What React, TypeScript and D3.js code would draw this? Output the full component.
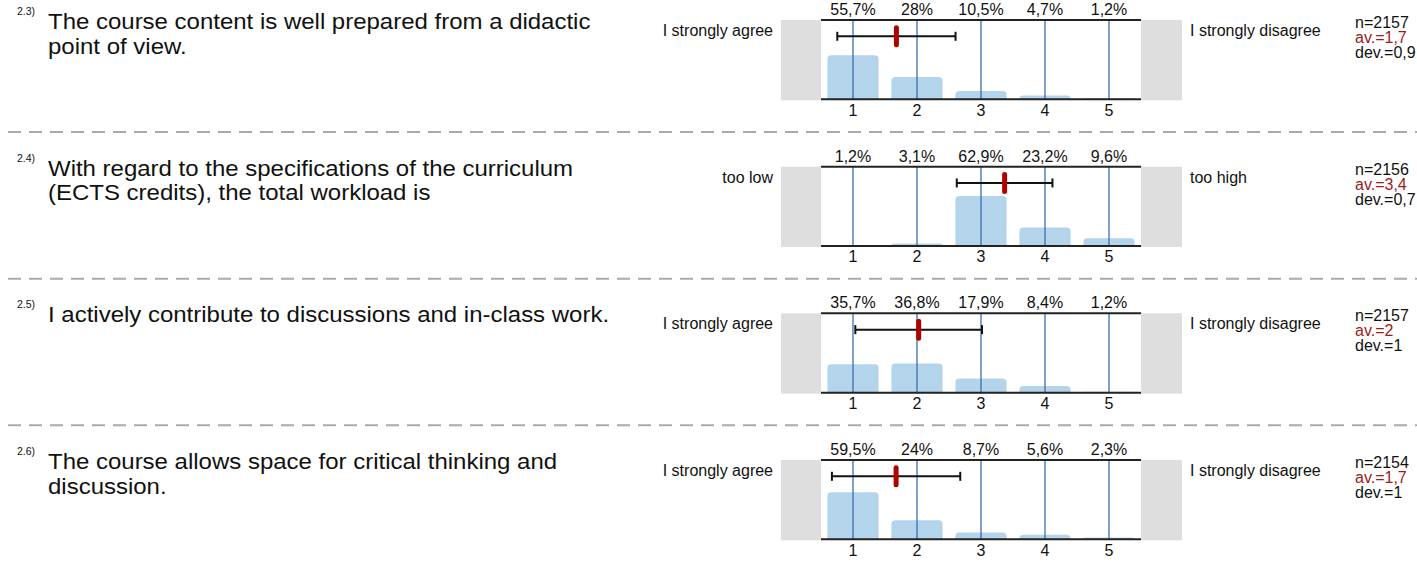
import React from "react";
import * as d3 from "d3";

const W = 1417;
const H = 562;

const questionIds = ["2.3)", "2.4)", "2.5)", "2.6)"];
const questionLines = [
  ["The course content is well prepared from a didactic", "point of view."],
  ["With regard to the specifications of the curriculum", "(ECTS credits), the total workload is"],
  ["I actively contribute to discussions and in-class work."],
  ["The course allows space for critical thinking and", "discussion."],
];
const leftLabels = ["I strongly agree", "too low", "I strongly agree", "I strongly agree"];
const rightLabels = ["I strongly disagree", "too high", "I strongly disagree", "I strongly disagree"];
const categories = ["1", "2", "3", "4", "5"];
const percents = [
  [55.7, 28, 10.5, 4.7, 1.2],
  [1.2, 3.1, 62.9, 23.2, 9.6],
  [35.7, 36.8, 17.9, 8.4, 1.2],
  [59.5, 24, 8.7, 5.6, 2.3],
];
const nLabels = ["n=2157", "n=2156", "n=2157", "n=2154"];
const avLabels = ["av.=1,7", "av.=3,4", "av.=2", "av.=1,7"];
const devLabels = ["dev.=0,9", "dev.=0,7", "dev.=1", "dev.=1"];

const FONT = "'Liberation Sans', Arial, Helvetica, sans-serif";
const PANEL_TOP = 20;
const PANEL_STEP = 146.67;
const PLOT_H = 79.3;
const X0 = 821;
const X1 = 1141;

const fmtPct = (v: number) => String(v).replace(".", ",") + "%";

function Panel({ i }: { i: number }) {
  const top = PANEL_TOP + i * PANEL_STEP;
  const bottom = top + PLOT_H;
  const x = d3.scaleBand<string>().domain(categories).range([X0, X1]).paddingInner(0.2).paddingOuter(0.1);
  const cx = (c: string) => (x(c) as number) + x.bandwidth() / 2;
  const xLin = d3.scaleLinear().domain([1, 5]).range([cx("1"), cx("5")]);
  const y = d3.scaleLinear().domain([0, 100]).range([bottom, top]);
  const vals = percents[i];
  const tot = d3.sum(vals);
  const mean = d3.sum(vals, (v, k) => v * (k + 1)) / tot;
  const ex2 = d3.sum(vals, (v, k) => v * (k + 1) * (k + 1)) / tot;
  const sd = Math.sqrt(ex2 - mean * mean);
  const eby = top + 16.3;

  const barPath = (c: string, v: number) => {
    const x0 = x(c) as number;
    const w = x.bandwidth();
    const y0 = y(v);
    const h = bottom - y0;
    const r = Math.min(4, h, w / 2);
    const p = d3.path();
    p.moveTo(x0, bottom);
    p.lineTo(x0, y0 + r);
    p.quadraticCurveTo(x0, y0, x0 + r, y0);
    p.lineTo(x0 + w - r, y0);
    p.quadraticCurveTo(x0 + w, y0, x0 + w, y0 + r);
    p.lineTo(x0 + w, bottom);
    p.closePath();
    return p.toString();
  };

  return (
    <g>
      <text x={17} y={top - 5} fontSize={10.5} fill="#111">{questionIds[i]}</text>
      {questionLines[i].map((l, k) => (
        <text key={k} transform={`translate(48,${top + 9 + k * 24.5}) scale(1.116,1)`} fontSize={21.5} fill="#111">{l}</text>
      ))}
      <rect x={781} y={top} width={X0 - 781} height={bottom - top + 1} fill="#dedede" />
      <rect x={X1} y={top} width={1182 - X1} height={bottom - top + 1} fill="#dedede" />
      {categories.map((c, k) => (
        <path key={c} d={barPath(c, vals[k])} fill="#b4d4eb" />
      ))}
      {categories.map((c) => (
        <line key={c} x1={cx(c)} x2={cx(c)} y1={top} y2={bottom} stroke="#2c64a3" strokeWidth={1.2} />
      ))}
      <line x1={X0} x2={X1} y1={top} y2={top} stroke="#222" strokeWidth={2} />
      <line x1={X0} x2={X1} y1={bottom} y2={bottom} stroke="#222" strokeWidth={2} />
      {categories.map((c, k) => (
        <text key={c} x={cx(c)} y={top - 5} fontSize={16} textAnchor="middle" fill="#111">{fmtPct(vals[k])}</text>
      ))}
      {categories.map((c) => (
        <text key={c} x={cx(c)} y={bottom + 16.5} fontSize={16} textAnchor="middle" fill="#111">{c}</text>
      ))}
      <line x1={xLin(mean - sd)} x2={xLin(mean + sd)} y1={eby} y2={eby} stroke="#111" strokeWidth={2} />
      <line x1={xLin(mean - sd)} x2={xLin(mean - sd)} y1={eby - 4.5} y2={eby + 4.5} stroke="#111" strokeWidth={2} />
      <line x1={xLin(mean + sd)} x2={xLin(mean + sd)} y1={eby - 4.5} y2={eby + 4.5} stroke="#111" strokeWidth={2} />
      <rect x={xLin(mean) - 2.5} y={eby - 11} width={5} height={22} rx={2.5} fill="#b00000" />
      <text x={773} y={top + 16} fontSize={16} textAnchor="end" fill="#111">{leftLabels[i]}</text>
      <text x={1190} y={top + 16} fontSize={16} fill="#111">{rightLabels[i]}</text>
      <text x={1355} y={top + 8} fontSize={16} fill="#111">{nLabels[i]}</text>
      <text x={1355} y={top + 23} fontSize={16} fill="#9b1c1c">{avLabels[i]}</text>
      <text x={1355} y={top + 38} fontSize={16} fill="#111">{devLabels[i]}</text>
      {i < questionIds.length - 1 && (
        <line x1={0} x2={W} y1={top + 112} y2={top + 112} stroke="#aaa" strokeWidth={2} strokeDasharray="13 8" strokeDashoffset={13} />
      )}
    </g>
  );
}

export default function App() {
  return (
    <svg width={W} height={H} style={{ position: "absolute", left: 0, top: 0, background: "#fff" }} fontFamily={FONT}>
      <rect width={W} height={H} fill="#fff" />
      {questionIds.map((_, i) => (
        <Panel key={i} i={i} />
      ))}
    </svg>
  );
}
